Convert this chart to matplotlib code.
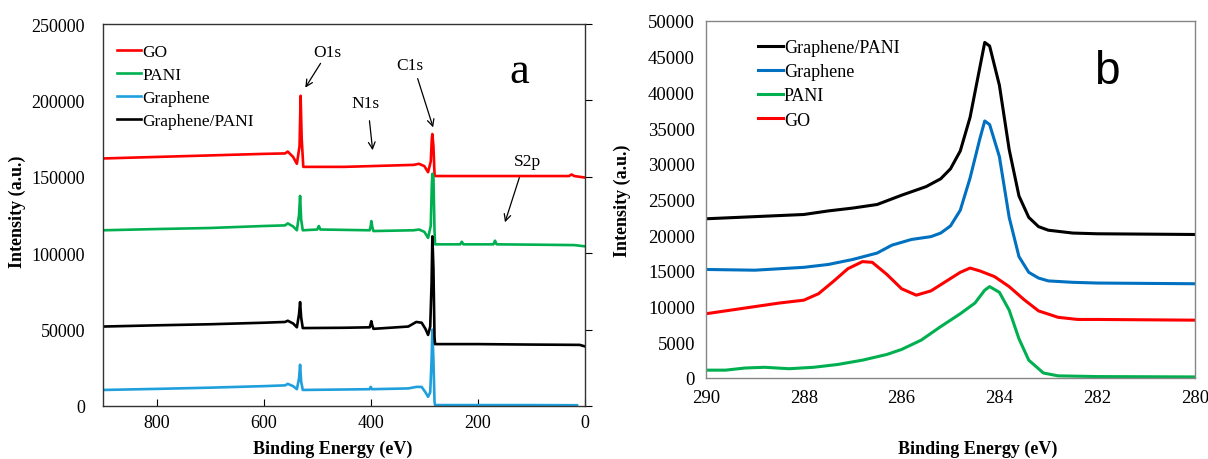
"""XPS survey (a) and C1s high-resolution (b) spectra of GO, PANI, graphene and graphene/PANI."""
import matplotlib
matplotlib.use('Agg')
import matplotlib.pyplot as plt

# --- survey spectra (panel a): binding energy (eV), intensity (a.u.) ---
go_be = [900, 800, 700, 600, 560, 555, 545, 538, 533, 531, 529, 526, 450, 400, 320, 310, 300, 293,
         288, 286, 285, 283, 281, 280, 200, 100, 30, 25, 20, 0]
go_int = [162000, 163000, 164000, 165000, 165300, 166500, 163000, 158500, 170000, 203000, 175000, 156500,
          156500, 157000, 157800, 158500, 157000, 153000, 160000, 175000, 178000, 170000, 152000, 150500,
          150500, 150500, 150500, 151500, 150500, 149500]

pani_be = [900, 800, 700, 600, 560, 555, 545, 538, 534, 532, 530, 527, 500, 497, 494, 402, 400, 399,
           397, 395, 320, 310, 300, 293, 288, 286, 285, 283, 281, 280, 233, 230, 227, 171, 168, 165,
           100, 20, 0]
pani_int = [115000, 115800, 116500, 117800, 118200, 119500, 117500, 115000, 125000, 137500, 122000,
            115000, 115500, 117800, 115500, 115000, 118000, 121000, 117000, 114500, 115000, 115500,
            114000, 110000, 118000, 145000, 152000, 150000, 115000, 105800, 105800, 107500, 105800,
            105800, 108200, 105800, 105600, 105300, 104500]

gp_be = [900, 800, 700, 600, 560, 555, 545, 538, 534, 532, 530, 527, 450, 402, 400, 399, 397, 395,
         330, 315, 305, 298, 293, 289, 286.5, 285, 283, 281, 280, 200, 100, 10, 0]
gp_int = [52000, 52800, 53500, 54500, 55000, 55800, 54000, 51500, 60000, 68000, 58000, 51000, 51200,
          51500, 54000, 55500, 52500, 50500, 52000, 55000, 54500, 50500, 46500, 52000, 80000, 111000,
          90000, 45000, 40500, 40500, 40200, 40000, 39000]

gr_be = [900, 800, 700, 600, 560, 555, 545, 538, 534, 532, 530, 527, 450, 402, 400, 398, 330, 315,
         305, 298, 293, 289, 286.5, 285, 283, 281, 280, 200, 100, 15]
gr_int = [10500, 11200, 12000, 13000, 13500, 14500, 13000, 11000, 18000, 27000, 16000, 10500, 10800,
          11000, 12500, 11000, 11500, 12500, 12500, 9000, 6000, 9000, 30000, 50000, 30000, 3000, 600,
          600, 600, 500]

# --- C1s spectra (panel b) ---
gp_c1s_be = [290, 289, 288, 287.5, 287, 286.5, 286, 285.5, 285.2, 285, 284.8, 284.6, 284.4, 284.3,
             284.2, 284.0, 283.8, 283.6, 283.4, 283.2, 283, 282.5, 282, 280]
gp_c1s = [22300, 22600, 22900, 23400, 23800, 24300, 25600, 26800, 27900, 29300, 31800, 36500, 43500,
          47000, 46500, 41000, 32000, 25500, 22500, 21200, 20700, 20300, 20200, 20100]

gr_c1s_be = [290, 289, 288, 287.5, 287, 286.5, 286.2, 285.8, 285.4, 285.2, 285, 284.8, 284.6, 284.4,
             284.3, 284.2, 284.0, 283.8, 283.6, 283.4, 283.2, 283, 282.5, 282, 280]
gr_c1s = [15200, 15100, 15500, 15900, 16600, 17500, 18600, 19400, 19800, 20300, 21300, 23500, 28000,
          33500, 36000, 35500, 31000, 22500, 17000, 14800, 14000, 13600, 13400, 13300, 13200]

go_c1s_be = [290, 289.5, 289, 288.5, 288, 287.7, 287.4, 287.1, 286.8, 286.6, 286.3, 286, 285.7, 285.4,
             285.1, 284.8, 284.6, 284.4, 284.1, 283.8, 283.5, 283.2, 282.8, 282.4, 282, 280]
go_c1s = [9000, 9500, 10000, 10500, 10900, 11800, 13500, 15300, 16300, 16200, 14500, 12500, 11600,
          12200, 13500, 14800, 15400, 15000, 14200, 12800, 11000, 9400, 8500, 8200, 8200, 8100]

pani_c1s_be = [290, 289.6, 289.2, 288.8, 288.3, 287.8, 287.3, 286.8, 286.3, 286, 285.6, 285.2, 284.8,
               284.5, 284.3, 284.2, 284.0, 283.8, 283.6, 283.4, 283.1, 282.8, 282, 280]
pani_c1s = [1100, 1100, 1400, 1500, 1300, 1500, 1900, 2500, 3300, 4000, 5300, 7200, 9000, 10500, 12300,
            12800, 12000, 9500, 5500, 2500, 700, 300, 200, 150]

# peak labels for the survey: (text, text position, arrow tail, arrow tip)
peak_labels = [
    ("O1s", (482, 231700), (491, 225800), (525, 206800)),
    ("N1s", (409, 198300), (403, 188500), (396, 165600)),
    ("C1s", (327, 223200), (314, 216000), (282, 180600)),
    ("S2p", (107, 160300), (121, 151200), (151, 118500)),
]

RED, GREEN, BLACK = '#FF0000', '#00B050', '#000000'
BLUE_A, BLUE_B = '#1FA0DD', '#0070C0'
SERIF = 'Liberation Serif'

plt.rcParams['font.family'] = SERIF
plt.rcParams['font.size'] = 12

fig = plt.figure(figsize=(12.08, 4.6), dpi=100)
ax1 = fig.add_axes([103 / 1208, 53 / 460, 482 / 1208, 382 / 460])
ax2 = fig.add_axes([706 / 1208, 81 / 460, 489 / 1208, 357 / 460])

# --- panel a ---
lw = 1.9
ax1.plot(go_be, go_int, color=RED, lw=lw, label='GO')
ax1.plot(pani_be, pani_int, color=GREEN, lw=lw, label='PANI')
ax1.plot(gr_be, gr_int, color=BLUE_A, lw=lw, label='Graphene')
ax1.plot(gp_be, gp_int, color=BLACK, lw=lw, label='Graphene/PANI')
ax1.set_xlim(900, 0)
ax1.set_ylim(0, 250000)
ax1.set_xticks([800, 600, 400, 200, 0])
ax1.set_yticks(range(0, 250001, 50000))
ax1.tick_params(labelsize=13)
ax1.tick_params(axis='x', direction='in', length=5, pad=6)
ax1.tick_params(axis='y', left=False, right=True, direction='out', length=5, labelleft=True, pad=8)
for s in ax1.spines.values():
    s.set_color('#333333')
    s.set_linewidth(1.0)

for txt, tpos, tail, tip in peak_labels:
    ax1.text(tpos[0], tpos[1], txt, ha='center', va='center', fontsize=12.5)
    ax1.annotate('', xy=tip, xytext=tail,
                 arrowprops=dict(arrowstyle='->', color='black', lw=0.9))
ax1.text(123, 219000, 'a', fontsize=32, ha='center', va='center')

ax1.legend(loc='upper left', bbox_to_anchor=(0.0, 0.985), frameon=False, fontsize=12.5,
           handlelength=1.4, handletextpad=0.05, labelspacing=0.4, borderaxespad=0.4)
ax1.set_ylabel('Intensity (a.u.)', fontweight='bold', fontsize=13)
ax1.yaxis.set_label_coords(-0.16, 0.51)
ax1.set_xlabel('Binding Energy (eV)', fontweight='bold', fontsize=13)
ax1.xaxis.set_label_coords(0.477, -0.088)

# --- panel b ---
ax2.plot(gp_c1s_be, gp_c1s, color=BLACK, lw=2.2, label='Graphene/PANI')
ax2.plot(gr_c1s_be, gr_c1s, color=BLUE_B, lw=2.2, label='Graphene')
ax2.plot(pani_c1s_be, pani_c1s, color=GREEN, lw=2.2, label='PANI')
ax2.plot(go_c1s_be, go_c1s, color=RED, lw=2.2, label='GO')
ax2.set_xlim(290, 280)
ax2.set_ylim(0, 50000)
ax2.set_xticks(range(290, 279, -2))
ax2.set_yticks(range(0, 50001, 5000))
ax2.tick_params(length=0, pad=8, labelsize=13.5)
for s in ax2.spines.values():
    s.set_color('#868686')
    s.set_linewidth(1.0)
ax2.text(281.8, 43000, 'b', fontsize=33, ha='center', va='center', family='Liberation Sans')
ax2.legend(loc='upper left', bbox_to_anchor=(0.08, 0.985), frameon=False, fontsize=13,
           handlelength=1.4, handletextpad=0.05, labelspacing=0.4, borderaxespad=0.3)
ax2.set_ylabel('Intensity (a.u.)', fontweight='bold', fontsize=13)
ax2.yaxis.set_label_coords(-0.153, 0.5)
ax2.set_xlabel('Binding Energy (eV)', fontweight='bold', fontsize=13)
ax2.xaxis.set_label_coords(0.556, -0.173)

plt.savefig('out.png', dpi=100)
